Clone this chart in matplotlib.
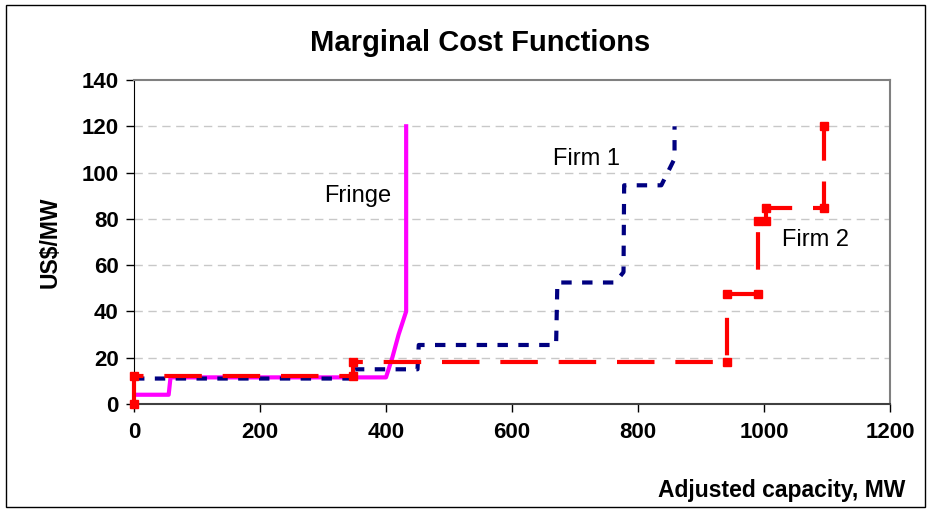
import matplotlib.pyplot as plt
from matplotlib.patches import Rectangle

plt.rcParams['font.family'] = ['Liberation Sans', 'DejaVu Sans']

# Fringe (solid magenta)
fringe_x = [0, 55, 58, 400, 410, 420, 432, 432]
fringe_y = [4, 4, 11.5, 11.5, 20, 30, 40, 120]

# Firm 1 (dotted navy)
firm1_x = [0, 350, 350, 450, 452, 670, 672, 764, 777, 778, 837, 858, 858]
firm1_y = [11, 11, 15, 15, 25.5, 25.5, 52.5, 52.5, 57, 94.5, 94.5, 106, 120]

# Firm 2 (dashed red with square markers)
firm2_x = [0, 0, 347, 347, 941, 941, 990, 990, 1003, 1003, 1096, 1096]
firm2_y = [0, 12, 12, 18, 18, 47.5, 47.5, 79, 79, 84.5, 84.5, 120]

xticks = [0, 200, 400, 600, 800, 1000, 1200]
yticks = [0, 20, 40, 60, 80, 100, 120, 140]

fig = plt.figure(figsize=(9.31, 5.11), dpi=100)
ax = fig.add_axes([134/931, 1-404/511, (890-134)/931, (404-80)/511])

for y in yticks[1:-1]:
    ax.axhline(y, color='#c8c8c8', lw=1, ls=(0, (6, 4)), zorder=1)

ax.plot(fringe_x, fringe_y, color='#ff00ff', lw=3, zorder=3)
ax.plot(firm1_x, firm1_y, color='#000080', lw=3, ls=(0, (2.5, 2.5)), zorder=4)
ax.plot(firm2_x, firm2_y, color='#ff0000', lw=3, ls=(0, (9, 5)),
        marker='s', ms=5.5, zorder=5, clip_on=False)

ax.text(355, 90, 'Fringe', fontsize=17, ha='center', va='center')
ax.text(718, 106, 'Firm 1', fontsize=17, ha='center', va='center')
ax.text(1082, 71, 'Firm 2', fontsize=17, ha='center', va='center')

ax.set_xlim(0, 1200)
ax.set_ylim(0, 140)
ax.set_xticks(xticks)
ax.set_yticks(yticks)
ax.tick_params(direction='out', length=6, width=1, labelsize=16)
ax.tick_params(axis='x', pad=7)
ax.tick_params(axis='y', pad=5)
for lab in ax.get_xticklabels() + ax.get_yticklabels():
    lab.set_fontweight('bold')
ax.spines['left'].set_color('#000000')
ax.spines['bottom'].set_color('#404040')
ax.spines['bottom'].set_linewidth(1.5)
ax.spines['top'].set_color('#808080')
ax.spines['top'].set_linewidth(1.5)
ax.spines['right'].set_color('#808080')
ax.spines['right'].set_linewidth(1.5)

fig.text(480/931, 1-43/511, 'Marginal Cost Functions', fontsize=21,
         fontweight='bold', ha='center', va='center')
fig.text(905/931, 1-490/511, 'Adjusted capacity, MW', fontsize=16.5,
         fontweight='bold', ha='right', va='center')
fig.text(50/931, 1-242/511, 'US$/MW', fontsize=16.5, fontweight='bold',
         rotation=90, ha='center', va='center')

fig.patches.append(Rectangle((6/931, 4/511), 919/931, 502/511, transform=fig.transFigure,
                             fill=False, edgecolor='black', lw=1))

fig.savefig('out.png', dpi=100)
